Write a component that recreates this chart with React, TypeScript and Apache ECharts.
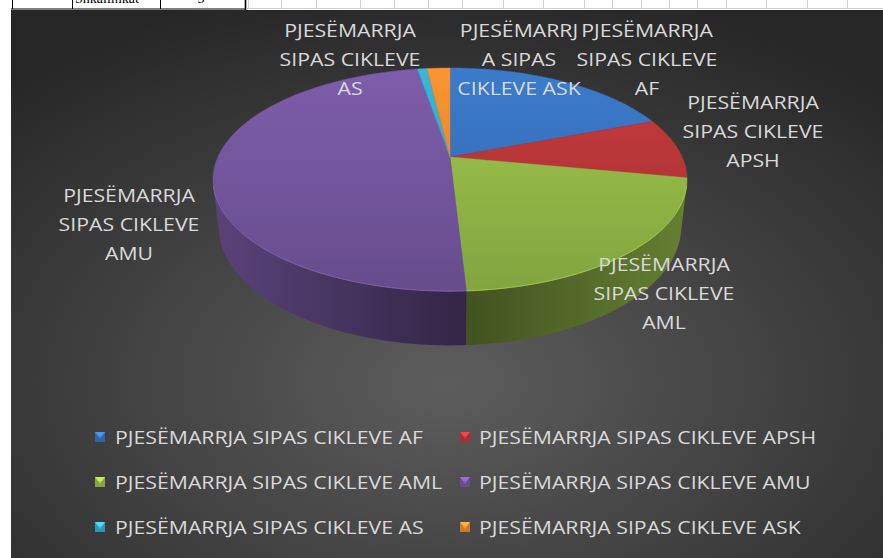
import React, { useEffect, useRef } from "react";
import * as echarts from "echarts";

const categories = [
  "PJESËMARRJA SIPAS CIKLEVE AF",
  "PJESËMARRJA SIPAS CIKLEVE APSH",
  "PJESËMARRJA SIPAS CIKLEVE AML",
  "PJESËMARRJA SIPAS CIKLEVE AMU",
  "PJESËMARRJA SIPAS CIKLEVE AS",
  "PJESËMARRJA SIPAS CIKLEVE ASK",
];
const values = [19.2, 8.8, 21.1, 48.2, 0.8, 1.9];
const labelTexts = [
  "PJESËMARRJA\nSIPAS CIKLEVE\nAF",
  "PJESËMARRJA\nSIPAS CIKLEVE\nAPSH",
  "PJESËMARRJA\nSIPAS CIKLEVE\nAML",
  "PJESËMARRJA\nSIPAS CIKLEVE\nAMU",
  "PJESËMARRJA\nSIPAS CIKLEVE\nAS",
  "PJESËMARRJ\nA SIPAS\nCIKLEVE ASK",
];
const colors = ["#3a77c6", "#c0393b", "#9bc24b", "#7a5aa6", "#37b2d2", "#f39030"];

// layout (not data)
const labelPos = [
  [647, 59],
  [753, 131],
  [664, 293],
  [129, 224],
  [350, 59],
  [519, 59],
];
const FONT = "'Open Sans', 'Noto Sans', sans-serif";
const TXT = "#d9d9d9";
const SX = 1.15;

// 3D pie projection
const CX = 450;
const CY = 157;
const F = 1018;
const R = 0.228;
const D = 1;
const PHI = Math.asin(0.461);
const H = 0.053;
const cosP = Math.cos(PHI);
const sinP = Math.sin(PHI);

function proj(x: number, y: number, z: number): number[] {
  const vx = x;
  const vy = y + D * cosP;
  const vz = z - D * sinP;
  const yc = vy * sinP + vz * cosP;
  const zc = vy * cosP - vz * sinP;
  return [CX + (F * vx) / zc, CY - (F * yc) / zc];
}
function rim(t: number, z: number) {
  return proj(R * Math.sin(t), R * Math.cos(t), z);
}

function shade(hex: string, f: number) {
  const n = parseInt(hex.slice(1), 16);
  const r = Math.min(255, Math.round(((n >> 16) & 255) * f));
  const g = Math.min(255, Math.round(((n >> 8) & 255) * f));
  const b = Math.min(255, Math.round((n & 255) * f));
  return `rgb(${r},${g},${b})`;
}

const VIS_A = Math.acos(-R / (D * cosP));
const VIS_B = 2 * Math.PI - VIS_A;

export default function App() {
  const ref = useRef<HTMLDivElement>(null);
  useEffect(() => {
    document.body.style.margin = "0";
    const chart = echarts.init(ref.current!, null, { renderer: "svg" });
    const total = values.reduce((a, b) => a + b, 0);

    const renderItem = (params: any, api: any) => {
      const i = params.dataIndex;
      let start = 0;
      for (let k = 0; k < i; k++) start += values[k];
      const a0 = (start / total) * Math.PI * 2;
      const a1 = ((start + api.value(0)) / total) * Math.PI * 2;
      const col = colors[i];
      const children: any[] = [];
      const n = Math.max(2, Math.ceil(((a1 - a0) * 180) / Math.PI));
      const top: number[][] = [proj(0, 0, 0)];
      for (let s = 0; s <= n; s++) top.push(rim(a0 + ((a1 - a0) * s) / n, 0));
      children.push({
        type: "polygon",
        z2: 10,
        shape: { points: top },
        style: {
          fill: new echarts.graphic.LinearGradient(
            0, 60, 0, 295,
            [
              { offset: 0, color: shade(col, 1.04) },
              { offset: 1, color: shade(col, 0.84) },
            ],
            true
          ),
          stroke: shade(col, 0.95),
          lineWidth: 0.5,
        },
      });
      const v0 = Math.max(a0, VIS_A);
      const v1 = Math.min(a1, VIS_B);
      if (v1 > v0) {
        const m = Math.max(2, Math.ceil(((v1 - v0) * 180) / Math.PI));
        const wall: number[][] = [];
        const edge: number[][] = [];
        for (let s = 0; s <= m; s++) {
          const p = rim(v0 + ((v1 - v0) * s) / m, 0);
          wall.push(p);
          edge.push(p);
        }
        for (let s = m; s >= 0; s--) wall.push(rim(v0 + ((v1 - v0) * s) / m, -H));
        children.push({
          type: "polygon",
          z2: 5,
          shape: { points: wall },
          style: {
            fill: new echarts.graphic.LinearGradient(
              212, 0, 690, 0,
              [
                { offset: 0, color: shade(col, 0.74) },
                { offset: 0.52, color: shade(col, 0.42) },
                { offset: 1, color: shade(col, 0.66) },
              ],
              true
            ),
          },
        });
        children.push({
          type: "polyline",
          z2: 11,
          shape: { points: edge },
          style: { stroke: shade(col, 1.18), lineWidth: 1, fill: "none", opacity: 0.55 },
        });
      }
      return { type: "group", children };
    };

    const graphics: any[] = [];
    // spreadsheet fragment above the chart
    const blackX = [12, 72, 160];
    blackX.forEach((x) =>
      graphics.push({ type: "line", shape: { x1: x + 0.5, y1: 0, x2: x + 0.5, y2: 9 }, style: { stroke: "#000", lineWidth: 1 } })
    );
    graphics.push({ type: "line", shape: { x1: 245.5, y1: 0, x2: 245.5, y2: 10 }, style: { stroke: "#000", lineWidth: 1.6 } });
    graphics.push({ type: "line", shape: { x1: 11, y1: 9, x2: 246, y2: 9 }, style: { stroke: "#000", lineWidth: 1.2 } });
    const grayX = [248, 281, 316, 360, 394, 428, 462, 503, 543, 584, 612, 641, 669, 697, 726, 766, 807, 847];
    grayX.forEach((x) =>
      graphics.push({ type: "line", shape: { x1: x + 0.5, y1: 0, x2: x + 0.5, y2: 9 }, style: { stroke: "#d0d0d0", lineWidth: 1 } })
    );
    graphics.push({ type: "line", shape: { x1: 246, y1: 8.5, x2: 883, y2: 8.5 }, style: { stroke: "#d0d0d0", lineWidth: 1 } });
    graphics.push({
      type: "text",
      style: { text: "Shkallinkat", x: 75, y: 5.5, verticalAlign: "bottom", font: "14px 'Liberation Serif', serif", fill: "#000" },
    });
    graphics.push({
      type: "text",
      style: { text: "5", x: 201, y: 5.5, align: "center", verticalAlign: "bottom", font: "14px 'Liberation Serif', serif", fill: "#000" },
    });
    // dark chart area
    graphics.push({
      type: "rect",
      z: -10,
      shape: { x: 11, y: 10, width: 872, height: 548 },
      style: {
        fill: new echarts.graphic.RadialGradient(0.5, 0.68, 0.75, [
          { offset: 0, color: "#5d5d5d" },
          { offset: 1, color: "#262626" },
        ]),
      },
    });
    // data labels
    labelTexts.forEach((t, i) =>
      graphics.push({
        type: "text",
        x: labelPos[i][0],
        y: labelPos[i][1],
        scaleX: SX,
        z: 20,
        style: {
          text: t,
          x: 0,
          y: 0,
          align: "center",
          verticalAlign: "middle",
          lineHeight: 29,
          font: `18.5px ${FONT}`,
          fill: TXT,
        },
      })
    );
    // legend
    categories.forEach((c, i) => {
      const col = i % 2;
      const row = Math.floor(i / 2);
      const ix = col === 0 ? 95 : 460;
      const tx = col === 0 ? 115 : 479;
      const cy = 437 + row * 45;
      graphics.push({ type: "rect", shape: { x: ix, y: cy - 5, width: 10, height: 10 }, style: { fill: shade(colors[i], 0.85) } });
      graphics.push({
        type: "polygon",
        shape: { points: [[ix, cy - 5], [ix + 10, cy - 5], [ix + 7, cy - 1], [ix + 3, cy - 1]] },
        style: { fill: shade(colors[i], 1.25) },
      });
      graphics.push({
        type: "polygon",
        shape: { points: [[ix + 3, cy - 1], [ix + 7, cy - 1], [ix + 5, cy + 2]] },
        style: { fill: shade(colors[i], 1.1) },
      });
      graphics.push({
        type: "text",
        x: tx,
        y: cy,
        scaleX: SX,
        style: { text: c, x: 0, y: 0, verticalAlign: "middle", font: `18.5px ${FONT}`, fill: TXT },
      });
    });

    chart.setOption({
      animation: false,
      backgroundColor: "#ffffff",
      graphic: { elements: graphics },
      series: [
        {
          type: "custom",
          coordinateSystem: "none",
          renderItem,
          data: values.map((v, i) => ({ name: categories[i], value: [v] })),
          z: 5,
        },
      ],
    });
    return () => chart.dispose();
  }, []);
  return <div ref={ref} style={{ width: 883, height: 558 }} />;
}
